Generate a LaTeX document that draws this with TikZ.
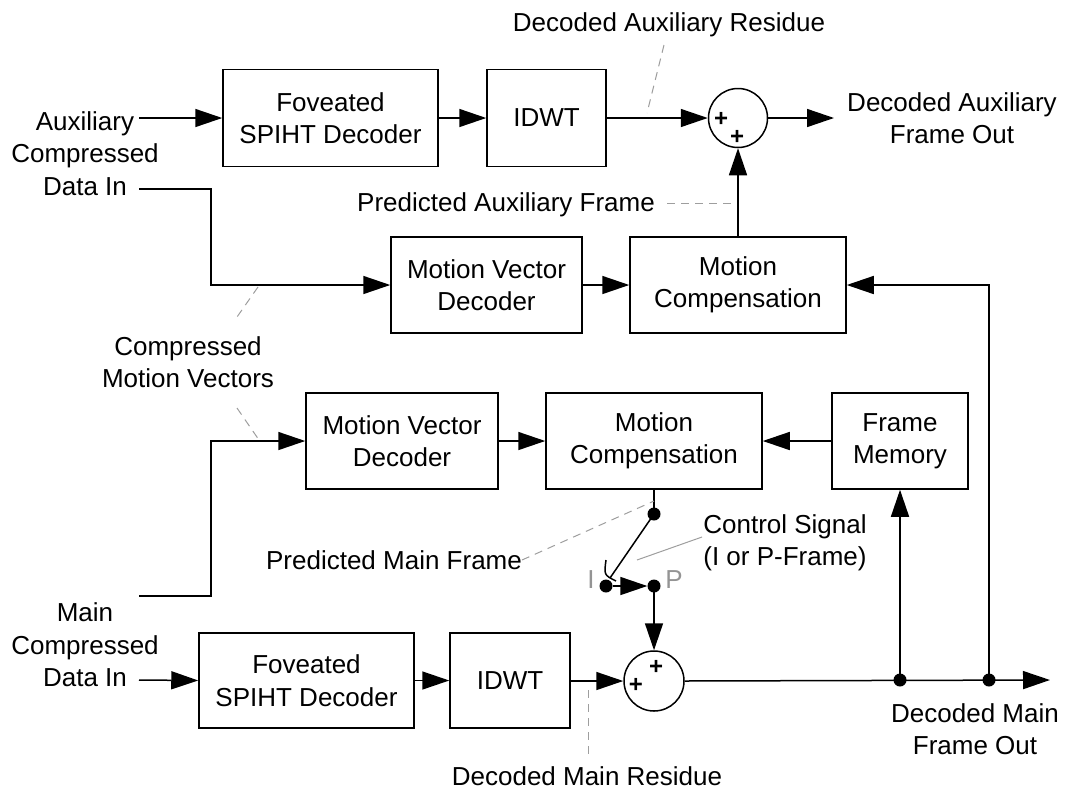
\documentclass[tikz,border=0pt]{standalone}
\usepackage{fontspec}
\setmainfont{Liberation Sans}
\usetikzlibrary{arrows.meta}
\begin{document}
\begin{tikzpicture}[x=1pt,y=-1pt,
  every node/.style={font=\fontsize{26}{32.5}\selectfont, inner sep=0pt},
  blk/.style={draw, line width=1.5pt, align=center},
  sumnode/.style={draw, circle, line width=1.5pt, minimum size=59pt},
  wire/.style={line width=1.5pt},
  arr/.style={wire, -{Triangle[length=27pt,width=18pt]}},
  dotn/.style={circle, fill, minimum size=13pt},
  leader/.style={draw=black!38, line width=1pt, dash pattern=on 8pt off 6pt},
  ctlline/.style={draw=black!38, line width=1pt},
  lbl/.style={align=center},
  plus/.style={font=\fontsize{24}{24}\bfseries\selectfont},
  swlbl/.style={text=black!42, anchor=base}
]
\path[use as bounding box] (0,0) rectangle (1068,793);

% ---- auxiliary decoding path ----
\node[blk, minimum width=215pt, minimum height=97pt] (fsdA) at (330.5,118) {Foveated\\SPIHT Decoder};
\node[blk, minimum width=119pt, minimum height=97pt] (idwtA) at (546.5,118) {IDWT};
\node[sumnode] (sumA) at (738,118) {};
\node[plus] (pA1) at (721,119) {+};
\node[plus] (pA2) at (737,137) {+};
\node[blk, minimum width=191pt, minimum height=96pt] (mvdA) at (486.5,285) {Motion Vector\\Decoder};
\node[blk, minimum width=216pt, minimum height=96pt] (mcA) at (738,285) {Motion\\Compensation};

% ---- main decoding path ----
\node[blk, minimum width=192pt, minimum height=96pt] (mvdB) at (402,441) {Motion Vector\\Decoder};
\node[blk, minimum width=216pt, minimum height=96pt] (mcB) at (654,441) {Motion\\Compensation};
\node[blk, minimum width=136pt, minimum height=96pt] (fm) at (900,441) {Frame\\Memory};
\node[blk, minimum width=215pt, minimum height=95pt] (fsdB) at (306.5,680.5) {Foveated\\SPIHT Decoder};
\node[blk, minimum width=120pt, minimum height=95pt] (idwtB) at (510,680.5) {IDWT};
\node[sumnode, minimum size=60pt] (sumB) at (654,681) {};
\node[plus] (pB1) at (656,667) {+};
\node[plus] (pB2) at (636,685) {+};

% ---- I/P switch ----
\node[dotn] (swTop) at (654,514) {};
\node[dotn] (swI) at (606,586) {};
\node[dotn] (swP) at (654,586) {};
\coordinate (armEnd) at (610,578);
\coordinate (arcA) at (606,560);
\coordinate (arcC) at (604,575);
\coordinate (arcB) at (616,581);
\node[swlbl] (lblI) at (591,588) {I};
\node[swlbl] (lblP) at (674,588) {P};

% ---- junction dots on the output line ----
\node[dotn] (tapL) at (900,680) {};
\node[dotn] (tapR) at (989,680) {};

% ---- inputs / outputs ----
\node[lbl] (auxIn) at (85,153.5) {Auxiliary\\Compressed\\Data In};
\node[lbl] (mainIn) at (85,645) {Main\\Compressed\\Data In};
\coordinate (auxA) at (139,118);
\coordinate (auxD) at (139,189);
\coordinate (mainD) at (139,596);
\coordinate (mainA) at (139,680);
\coordinate (auxOut) at (834,118);
\coordinate (mainOut) at (1050,680);
\node[lbl] (auxOutLbl) at (952,118) {Decoded Auxiliary\\Frame Out};
\node[lbl] (mainOutLbl) at (975,729) {Decoded Main\\Frame Out};

% ---- annotations ----
\node[anchor=base] (resA) at (669,31.3) {Decoded Auxiliary Residue};
\node[anchor=base] (predA) at (506,211.3) {Predicted Auxiliary Frame};
\node[lbl] (cmv) at (188,362) {Compressed\\Motion Vectors};
\node[anchor=base] (predB) at (394,569.3) {Predicted Main Frame};
\node[lbl] (ctl) at (785,543) {Control Signal\\(I or P-Frame)};
\node[anchor=base] (resB) at (587,785.3) {Decoded Main Residue};

\coordinate (lrA1) at (664,45);   \coordinate (lrA2) at (647,113);
\coordinate (lpA1) at (667,203);  \coordinate (lpA2) at (735,203);
\coordinate (lc1) at (258,287);   \coordinate (lc2) at (237,317);
\coordinate (lc3) at (237,408);   \coordinate (lc4) at (259,440);
\coordinate (lpB1) at (522,560);  \coordinate (lpB2) at (654,501);
\coordinate (lrB1) at (588,690);  \coordinate (lrB2) at (588,756);
\coordinate (lct1) at (702,537);  \coordinate (lct2) at (637,560);

% ---- connectors ----
\draw[arr] (auxA) -- (fsdA.west);
\draw[arr] (fsdA.east) -- (idwtA.west);
\draw[arr] (idwtA.east) -- (sumA.west);
\draw[arr] (sumA.east) -- (auxOut);
\draw[arr] (mcA.north) -- (sumA.south);
\draw[arr] (auxD) -- ++(72,0) |- (mvdA.west);
\draw[arr] (mvdA.east) -- (mcA.west);
\draw[arr] (tapR.center) |- (mcA.east);

\draw[arr] (mainD) -- ++(72,0) |- (mvdB.west);
\draw[arr] (mvdB.east) -- (mcB.west);
\draw[arr] (fm.west) -- (mcB.east);
\draw[arr] (tapL.center) -- (fm.south);
\draw[wire] (mcB.south) -- (swTop.center);
\draw[wire] (swTop.center) -- (armEnd);
\draw[wire] (arcA) .. controls (arcC) .. (arcB);
\draw[arr] (swI) -- (swP);
\draw[arr] (swP.center) -- (sumB.north);

\draw[arr] (mainA) -- (fsdB.west);
\draw[arr] (fsdB.east) -- (idwtB.west);
\draw[arr] (idwtB.east |- sumB.west) -- (sumB.west);
\draw[arr] (sumB.east) -- (mainOut);

% ---- leader lines ----
\draw[leader] (lrA1) -- (lrA2);
\draw[leader] (lpA1) -- (lpA2);
\draw[leader] (lc1) -- (lc2);
\draw[leader] (lc3) -- (lc4);
\draw[leader] (lpB1) -- (lpB2);
\draw[leader] (lrB1) -- (lrB2);
\draw[ctlline] (lct1) -- (lct2);
\end{tikzpicture}
\end{document}
